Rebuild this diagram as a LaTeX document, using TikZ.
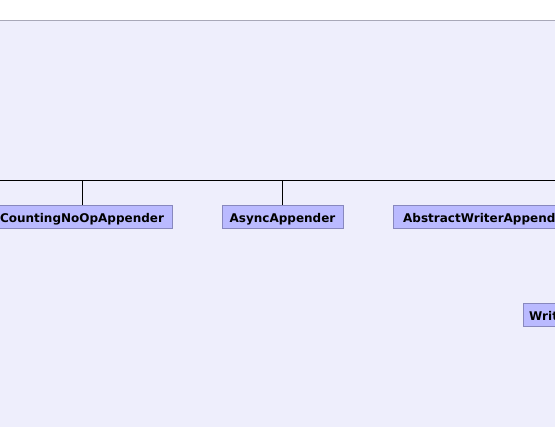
\documentclass[tikz,border=0pt]{standalone}
\usepackage{fontspec}
\setmainfont{DejaVu Sans}
\usepackage{tikz}
\usetikzlibrary{positioning,calc}
\definecolor{canvas}{RGB}{238,238,252}
\definecolor{rim}{RGB}{168,168,184}
\definecolor{classfill}{RGB}{186,186,255}
\definecolor{classline}{RGB}{136,136,190}
\tikzset{
  classbox/.style={draw=classline,fill=classfill,inner xsep=0pt,inner ysep=3pt,
    text height=14.5pt,text depth=2.5pt,
    font=\fontsize{12}{14}\selectfont\bfseries,text=black},
  inherit/.style={draw=black,line width=0.8pt}
}
\begin{document}
\begin{tikzpicture}[x=1pt,y=-1pt]
\useasboundingbox (0,0) rectangle (555,427);
\clip (0,0) rectangle (555,427);
% canvas
\fill[white] (0,0) rectangle (555,20);
\fill[canvas] (0,20) rectangle (555,427);
\draw[rim,line width=1pt] (0,20.5)--(555,20.5);
% classes
\node[classbox,minimum width=180pt] (counting) at (82,216.5) {CountingNoOpAppender};
\node[classbox,minimum width=121pt] (async) at (282.5,216.5) {AsyncAppender};
\node[classbox,anchor=west,inner xsep=10pt] (abstractwriter) at (393,216.5) {AbstractWriterAppender};
\node[classbox,anchor=west,inner xsep=6pt] (writer) at (523,315) {WriterAppender};
% hierarchy
\coordinate (busL) at (-10,180.5);
\coordinate (busR) at (565,180.5);
\draw[inherit] (busL)--(busR);
\draw[inherit] (counting.north)--(counting.north |- busL);
\draw[inherit] (async.north)--(async.north |- busL);
\end{tikzpicture}
\end{document}
